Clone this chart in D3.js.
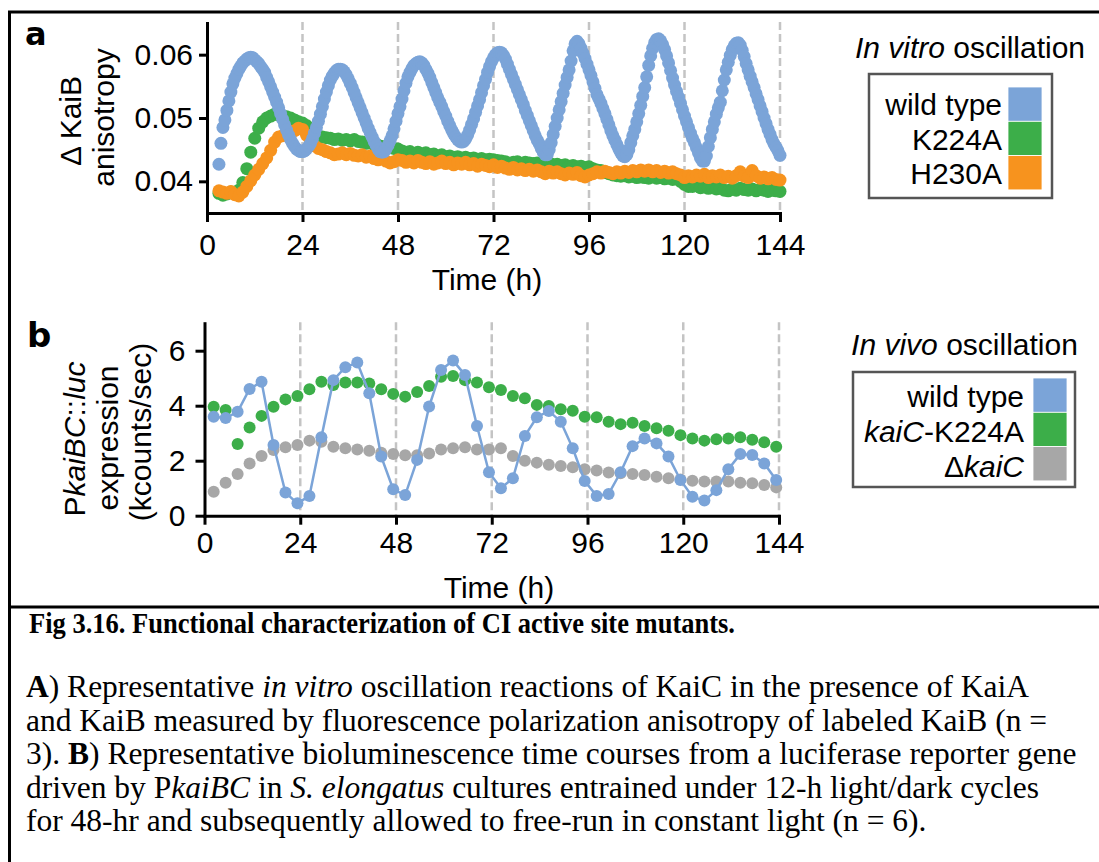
<!DOCTYPE html>
<html>
<head>
<meta charset="utf-8">
<script src="https://cdn.jsdelivr.net/npm/d3@7"></script>
<style>
  body { margin: 0; background: #fff; }
  svg { display: block; }
</style>
</head>
<body>
<script>
// ---- data ----
const timeTicks = [0, 24, 48, 72, 96, 120, 144];
const dashTimes = [24, 48, 72, 96, 120, 144];
const anisoTicks = [0.04, 0.05, 0.06];
const exprTicks = [0, 2, 4, 6];

const vitroNames = ["wild type", "K224A", "H230A"];
const vitroColors = ["#7ba4d8", "#3cae49", "#f7931e"];
const vivoColors = ["#7ba4d8", "#3cae49", "#a7a7a7"];

// in vitro, wild type: every 0.5 h from t = 3
const wtStart = 3;
const wtStep = 0.5;
const wtAniso = [
  0.0427, 0.0460, 0.0485, 0.0497, 0.0512, 0.0527, 0.0541, 0.0554, 0.0563, 0.0570, 0.0577, 0.0582,
  0.0587, 0.0590, 0.0593, 0.0595, 0.0596, 0.0595, 0.0592, 0.0589, 0.0586, 0.0581, 0.0577, 0.0572,
  0.0564, 0.0557, 0.0549, 0.0541, 0.0533, 0.0525, 0.0516, 0.0507, 0.0498, 0.0489, 0.0481, 0.0473,
  0.0466, 0.0460, 0.0455, 0.0451, 0.0449, 0.0447, 0.0447, 0.0448, 0.0451, 0.0455, 0.0460, 0.0467,
  0.0476, 0.0485, 0.0495, 0.0506, 0.0518, 0.0530, 0.0541, 0.0551, 0.0560, 0.0566, 0.0571, 0.0575,
  0.0577, 0.0577, 0.0576, 0.0573, 0.0568, 0.0562, 0.0555, 0.0548, 0.0540, 0.0532, 0.0524, 0.0516,
  0.0508, 0.0500, 0.0492, 0.0484, 0.0477, 0.0470, 0.0463, 0.0457, 0.0451, 0.0447, 0.0446, 0.0447,
  0.0451, 0.0457, 0.0464, 0.0472, 0.0483, 0.0495, 0.0507, 0.0518, 0.0530, 0.0543, 0.0555, 0.0565,
  0.0572, 0.0578, 0.0583, 0.0586, 0.0588, 0.0589, 0.0587, 0.0583, 0.0577, 0.0571, 0.0564, 0.0556,
  0.0548, 0.0540, 0.0532, 0.0525, 0.0518, 0.0510, 0.0503, 0.0495, 0.0488, 0.0481, 0.0475, 0.0470,
  0.0466, 0.0463, 0.0462, 0.0463, 0.0467, 0.0473, 0.0481, 0.0490, 0.0499, 0.0509, 0.0519, 0.0529,
  0.0540, 0.0551, 0.0561, 0.0572, 0.0581, 0.0589, 0.0595, 0.0600, 0.0603, 0.0604, 0.0603, 0.0599,
  0.0593, 0.0585, 0.0577, 0.0569, 0.0561, 0.0553, 0.0545, 0.0537, 0.0529, 0.0521, 0.0512, 0.0504,
  0.0496, 0.0488, 0.0480, 0.0472, 0.0465, 0.0459, 0.0452, 0.0446, 0.0442, 0.0442, 0.0450, 0.0461,
  0.0474, 0.0487, 0.0500, 0.0513, 0.0526, 0.0539, 0.0552, 0.0564, 0.0576, 0.0590, 0.0606, 0.0617,
  0.0621, 0.0617, 0.0610, 0.0602, 0.0594, 0.0585, 0.0576, 0.0567, 0.0557, 0.0547, 0.0537, 0.0530,
  0.0523, 0.0515, 0.0507, 0.0498, 0.0489, 0.0480, 0.0472, 0.0465, 0.0458, 0.0451, 0.0445, 0.0440,
  0.0439, 0.0442, 0.0450, 0.0461, 0.0472, 0.0482, 0.0494, 0.0507, 0.0520, 0.0534, 0.0548, 0.0565,
  0.0583, 0.0598, 0.0610, 0.0619, 0.0624, 0.0625, 0.0622, 0.0616, 0.0608, 0.0598, 0.0587, 0.0575,
  0.0563, 0.0552, 0.0542, 0.0533, 0.0523, 0.0513, 0.0503, 0.0494, 0.0485, 0.0476, 0.0468, 0.0461,
  0.0453, 0.0445, 0.0437, 0.0432, 0.0432, 0.0440, 0.0455, 0.0469, 0.0482, 0.0494, 0.0506, 0.0516,
  0.0525, 0.0543, 0.0560, 0.0576, 0.0588, 0.0599, 0.0608, 0.0614, 0.0618, 0.0619, 0.0615, 0.0607,
  0.0597, 0.0586, 0.0576, 0.0566, 0.0557, 0.0548, 0.0538, 0.0529, 0.0519, 0.0510, 0.0500, 0.0491,
  0.0482, 0.0474, 0.0466, 0.0459, 0.0454, 0.0448, 0.0441,
];

// in vitro, mutants: every 1 h from t = 3
const mutStart = 3;
const mutStep = 1;
const k224aAniso = [
  0.0381, 0.0378, 0.0380, 0.0383, 0.0381, 0.0386, 0.0398, 0.0420, 0.0446, 0.0468, 0.0484, 0.0494,
  0.0500, 0.0503, 0.0506, 0.0505, 0.0503, 0.0502, 0.0500, 0.0497, 0.0494, 0.0492, 0.0488, 0.0481,
  0.0476, 0.0472, 0.0470, 0.0469, 0.0468, 0.0466, 0.0467, 0.0465, 0.0466, 0.0464, 0.0466, 0.0463,
  0.0462, 0.0460, 0.0461, 0.0458, 0.0457, 0.0455, 0.0454, 0.0453, 0.0452, 0.0451, 0.0448, 0.0446,
  0.0447, 0.0444, 0.0446, 0.0443, 0.0445, 0.0442, 0.0443, 0.0440, 0.0442, 0.0439, 0.0440, 0.0438,
  0.0439, 0.0437, 0.0438, 0.0436, 0.0437, 0.0435, 0.0436, 0.0434, 0.0435, 0.0434, 0.0433, 0.0432,
  0.0431, 0.0426, 0.0430, 0.0431, 0.0428, 0.0430, 0.0429, 0.0428, 0.0429, 0.0427, 0.0428, 0.0429,
  0.0426, 0.0427, 0.0425, 0.0426, 0.0424, 0.0425, 0.0423, 0.0424, 0.0422, 0.0423, 0.0420, 0.0418,
  0.0417, 0.0414, 0.0412, 0.0410, 0.0409, 0.0408, 0.0409, 0.0407, 0.0408, 0.0406, 0.0407, 0.0406,
  0.0405, 0.0407, 0.0405, 0.0406, 0.0404, 0.0405, 0.0403, 0.0404, 0.0400, 0.0395, 0.0392, 0.0392,
  0.0393, 0.0390, 0.0391, 0.0389, 0.0390, 0.0388, 0.0389, 0.0386, 0.0385, 0.0388, 0.0386, 0.0389,
  0.0387, 0.0386, 0.0388, 0.0385, 0.0387, 0.0386, 0.0384, 0.0386, 0.0385, 0.0384,
];
const h230aAniso = [
  0.0385, 0.0383, 0.0381, 0.0384, 0.0379, 0.0377, 0.0383, 0.0392, 0.0401, 0.0410, 0.0419, 0.0428,
  0.0437, 0.0449, 0.0462, 0.0470, 0.0472, 0.0474, 0.0477, 0.0480, 0.0484, 0.0482, 0.0473, 0.0463,
  0.0456, 0.0452, 0.0450, 0.0447, 0.0445, 0.0442, 0.0443, 0.0445, 0.0442, 0.0444, 0.0441, 0.0440,
  0.0442, 0.0438, 0.0440, 0.0436, 0.0434, 0.0437, 0.0432, 0.0429, 0.0431, 0.0434, 0.0433, 0.0430,
  0.0432, 0.0429, 0.0433, 0.0430, 0.0428, 0.0431, 0.0427, 0.0429, 0.0432, 0.0428, 0.0430, 0.0426,
  0.0429, 0.0427, 0.0430, 0.0426, 0.0428, 0.0424, 0.0427, 0.0425, 0.0423, 0.0426, 0.0422, 0.0424,
  0.0421, 0.0419, 0.0422, 0.0418, 0.0420, 0.0417, 0.0419, 0.0416, 0.0418, 0.0415, 0.0412, 0.0416,
  0.0413, 0.0415, 0.0412, 0.0410, 0.0413, 0.0411, 0.0414, 0.0409, 0.0407, 0.0410, 0.0412, 0.0415,
  0.0413, 0.0416, 0.0414, 0.0412, 0.0415, 0.0413, 0.0416, 0.0414, 0.0417, 0.0415, 0.0418, 0.0416,
  0.0418, 0.0415, 0.0417, 0.0414, 0.0416, 0.0413, 0.0415, 0.0412, 0.0410, 0.0406, 0.0409, 0.0407,
  0.0410, 0.0408, 0.0411, 0.0406, 0.0409, 0.0407, 0.0410, 0.0406, 0.0408, 0.0405, 0.0409, 0.0415,
  0.0408, 0.0406, 0.0417, 0.0409, 0.0405, 0.0407, 0.0404, 0.0406, 0.0403, 0.0402,
];

// in vivo: every 3 h from t = 2.3 (kcounts/sec)
const vivoStart = 2.3;
const vivoStep = 3;
const wtExpr = [
  3.60, 3.55, 3.78, 4.61, 4.87, 2.57, 0.84, 0.45, 0.72, 2.85, 4.93, 5.40,
  5.57, 4.45, 2.15, 0.96, 0.75, 2.03, 3.97, 5.30, 5.64, 5.12, 3.26, 1.58,
  1.00, 1.36, 2.90, 3.58, 3.81, 3.42, 2.45, 1.26, 0.72, 0.79, 1.58, 2.53,
  2.81, 2.63, 2.15, 1.30, 0.69, 0.55, 0.93, 1.69, 2.24, 2.21, 1.90, 1.30,
];
const k224aExpr = [
  3.96, 3.84, 2.61, 3.21, 3.63, 3.96, 4.23, 4.35, 4.60, 4.87, 4.75, 4.84,
  4.84, 4.81, 4.60, 4.43, 4.33, 4.50, 4.72, 5.05, 5.08, 4.93, 4.84, 4.67,
  4.57, 4.35, 4.27, 4.03, 3.99, 3.87, 3.82, 3.60, 3.58, 3.42, 3.33, 3.38,
  3.26, 3.18, 3.09, 2.93, 2.81, 2.73, 2.78, 2.81, 2.85, 2.76, 2.67, 2.51,
];
const dKaiCExpr = [
  0.87, 1.20, 1.52, 1.90, 2.17, 2.39, 2.49, 2.57, 2.73, 2.69, 2.51, 2.45,
  2.41, 2.36, 2.29, 2.24, 2.20, 2.20, 2.26, 2.41, 2.45, 2.49, 2.41, 2.41,
  2.45, 2.17, 2.00, 1.93, 1.85, 1.81, 1.76, 1.69, 1.64, 1.57, 1.54, 1.52,
  1.48, 1.42, 1.36, 1.32, 1.27, 1.24, 1.24, 1.24, 1.20, 1.18, 1.12, 1.03,
];

const captionTitle = "Fig 3.16. Functional characterization of CI active site mutants.";
const captionLines = [
  [["A", "b"], [") Representative ", ""], ["in vitro", "i"], [" oscillation reactions of KaiC in the presence of KaiA", ""]],
  [["and KaiB measured by fluorescence polarization anisotropy of labeled KaiB (n =", ""]],
  [["3). ", ""], ["B", "b"], [") Representative bioluminescence time courses from a luciferase reporter gene", ""]],
  [["driven by P", ""], ["kaiBC", "i"], [" in ", ""], ["S. elongatus", "i"], [" cultures entrained under 12-h light/dark cycles", ""]],
  [["for 48-hr and subsequently allowed to free-run in constant light (n = 6).", ""]],
];

// ---- drawing ----
const W = 1099;
const H = 862;
const sans = '"Liberation Sans", Arial, Helvetica, sans-serif';
const serif = '"Liberation Serif", "Times New Roman", serif';

const toPoints = (vals, start, step) => vals.map((v, i) => ({ t: start + i * step, v }));

const svg = d3
  .select("body")
  .append("svg")
  .attr("width", W)
  .attr("height", H)
  .attr("font-family", sans);

svg.append("rect").attr("width", W).attr("height", H).attr("fill", "#fff");

// page frame and caption rule
svg
  .append("path")
  .attr("d", `M 9.5 ${H} V 12 H ${W}`)
  .attr("fill", "none")
  .attr("stroke", "#000")
  .attr("stroke-width", 3);
svg
  .append("path")
  .attr("d", `M 9.5 607 H ${W}`)
  .attr("fill", "none")
  .attr("stroke", "#000")
  .attr("stroke-width", 3);

const styleAxis = (g) => {
  g.attr("font-family", null).attr("font-size", null);
  g.selectAll("path.domain").attr("stroke-width", 3).attr("stroke-linecap", "square");
  g.selectAll(".tick line").attr("stroke-width", 3);
  g.selectAll(".tick text").attr("font-size", 30).attr("fill", "#000");
};

const addText = (parent, parts, attrs) => {
  const t = parent.append("text").style("white-space", "pre");
  Object.entries(attrs).forEach(([k, v]) => t.attr(k, v));
  parts.forEach(([s, f]) => {
    t.append("tspan")
      .attr("font-style", f === "i" ? "italic" : null)
      .attr("font-weight", f === "b" ? "bold" : null)
      .text(s);
  });
  return t;
};

// ===== panel a =====
const xA = d3.scaleLinear().domain([0, 144]).range([207, 780]);
const yA = d3.scaleLinear().domain([0.035, 0.065]).range([213, 23]);

const gA = svg.append("g");

gA.append("g")
  .selectAll("line")
  .data(dashTimes)
  .join("line")
  .attr("x1", (d) => xA(d))
  .attr("x2", (d) => xA(d))
  .attr("y1", yA(0.065) - 1)
  .attr("y2", yA(0.035))
  .attr("stroke", "#c4c4c4")
  .attr("stroke-width", 2.5)
  .attr("stroke-dasharray", "8 4");

const vitroSeries = [
  { pts: toPoints(k224aAniso, mutStart, mutStep), color: vitroColors[1] },
  { pts: toPoints(h230aAniso, mutStart, mutStep), color: vitroColors[2] },
  { pts: toPoints(wtAniso, wtStart, wtStep), color: vitroColors[0] },
];

vitroSeries.forEach((s) => {
  gA.append("g")
    .selectAll("circle")
    .data(s.pts)
    .join("circle")
    .attr("cx", (d) => xA(d.t))
    .attr("cy", (d) => yA(d.v))
    .attr("r", 6.5)
    .attr("fill", s.color);
});

gA.append("g")
  .attr("transform", `translate(0,${yA(0.035)})`)
  .call(d3.axisBottom(xA).tickValues(timeTicks).tickSize(9).tickPadding(12).tickSizeOuter(0))
  .call(styleAxis);

gA.append("g")
  .attr("transform", `translate(${xA(0)},0)`)
  .call(
    d3.axisLeft(yA).tickValues(anisoTicks).tickFormat(d3.format(".2f")).tickSize(8).tickPadding(6).tickSizeOuter(0)
  )
  .call(styleAxis);

addText(gA, [["Time (h)", ""]], { x: 487, y: 290, "text-anchor": "middle", "font-size": 30 });
addText(gA, [["Δ KaiB", ""]], { transform: "translate(81,121) rotate(-90)", "text-anchor": "middle", "font-size": 30 });
addText(gA, [["anisotropy", ""]], { transform: "translate(114,117.5) rotate(-90)", "text-anchor": "middle", "font-size": 30 });
addText(gA, [["a", ""]], { x: 25, y: 45, "font-size": 32, "font-weight": "bold", "font-family": '"DejaVu Sans", sans-serif' });

// legend a
addText(gA, [["In vitro", "i"], [" oscillation", ""]], { x: 970, y: 58, "text-anchor": "middle", "font-size": 30 });
gA.append("rect")
  .attr("x", 869).attr("y", 74).attr("width", 183).attr("height", 124)
  .attr("fill", "none").attr("stroke", "#555").attr("stroke-width", 2.5);
gA.append("g")
  .selectAll("rect")
  .data(vitroColors)
  .join("rect")
  .attr("x", 1008)
  .attr("y", (d, i) => 87 + i * 34.3)
  .attr("width", 34)
  .attr("height", 34.3)
  .attr("fill", (d) => d)
  .attr("stroke", "#fff")
  .attr("stroke-width", 0.8);
vitroNames.forEach((name, i) => {
  addText(gA, [[name, ""]], { x: 1002, y: 115 + i * 34.5, "text-anchor": "end", "font-size": 30 });
});

// ===== panel b =====
const xB = d3.scaleLinear().domain([0, 144]).range([204.5, 779]);
const yB = d3.scaleLinear().domain([0, 7]).range([515.7, 323.2]);

const gB = svg.append("g");

gB.append("g")
  .selectAll("line")
  .data(dashTimes)
  .join("line")
  .attr("x1", (d) => xB(d))
  .attr("x2", (d) => xB(d))
  .attr("y1", yB(7) - 1)
  .attr("y2", yB(0))
  .attr("stroke", "#c4c4c4")
  .attr("stroke-width", 2.5)
  .attr("stroke-dasharray", "8 4");

const vivoSeries = [
  { pts: toPoints(dKaiCExpr, vivoStart, vivoStep), color: vivoColors[2], line: false },
  { pts: toPoints(k224aExpr, vivoStart, vivoStep), color: vivoColors[1], line: false },
  { pts: toPoints(wtExpr, vivoStart, vivoStep), color: vivoColors[0], line: true },
];

const lineB = d3.line().x((d) => xB(d.t)).y((d) => yB(d.v));

vivoSeries.forEach((s) => {
  if (s.line) {
    gB.append("path")
      .datum(s.pts)
      .attr("d", lineB)
      .attr("fill", "none")
      .attr("stroke", s.color)
      .attr("stroke-width", 2.5);
  }
  gB.append("g")
    .selectAll("circle")
    .data(s.pts)
    .join("circle")
    .attr("cx", (d) => xB(d.t))
    .attr("cy", (d) => yB(d.v))
    .attr("r", 6)
    .attr("fill", s.color);
});

gB.append("g")
  .attr("transform", `translate(0,${yB(0)})`)
  .call(d3.axisBottom(xB).tickValues(timeTicks).tickSize(9).tickPadding(7).tickSizeOuter(0))
  .call(styleAxis);

gB.append("g")
  .attr("transform", `translate(${xB(0)},0)`)
  .call(
    d3.axisLeft(yB).tickValues(exprTicks).tickFormat(d3.format("d")).tickSize(9).tickPadding(10).tickSizeOuter(0)
  )
  .call(styleAxis);

addText(gB, [["Time (h)", ""]], { x: 499, y: 598, "text-anchor": "middle", "font-size": 30 });
addText(gB, [["P", ""], ["kaiBC", "i"], ["::", ""], ["luc", "i"]], {
  transform: "translate(85,439) rotate(-90)", "text-anchor": "middle", "font-size": 30,
});
addText(gB, [["expression", ""]], { transform: "translate(118,438) rotate(-90)", "text-anchor": "middle", "font-size": 30 });
addText(gB, [["(kcounts/sec)", ""]], { transform: "translate(151,432) rotate(-90)", "text-anchor": "middle", "font-size": 30 });
addText(gB, [["b", ""]], { x: 27, y: 347, "font-size": 34, "font-weight": "bold", "font-family": '"DejaVu Sans", sans-serif' });

// legend b
const vivoLabels = [
  [["wild type", ""]],
  [["kaiC", "i"], ["-K224A", ""]],
  [["Δ", ""], ["kaiC", "i"]],
];
addText(gB, [["In vivo", "i"], [" oscillation", ""]], { x: 964.5, y: 355, "text-anchor": "middle", "font-size": 30 });
gB.append("rect")
  .attr("x", 853).attr("y", 372).attr("width", 222).attr("height", 115)
  .attr("fill", "none").attr("stroke", "#555").attr("stroke-width", 2.5);
gB.append("g")
  .selectAll("rect")
  .data(vivoColors)
  .join("rect")
  .attr("x", 1033)
  .attr("y", (d, i) => 378 + i * 34.3)
  .attr("width", 34)
  .attr("height", 34.3)
  .attr("fill", (d) => d)
  .attr("stroke", "#fff")
  .attr("stroke-width", 0.8);
vivoLabels.forEach((parts, i) => {
  addText(gB, parts, { x: 1024, y: 407 + i * 35, "text-anchor": "end", "font-size": 30 });
});

// ===== caption =====
const gC = svg.append("g").attr("font-family", serif).attr("fill", "#000");
addText(gC, [[captionTitle, "b"]], {
  x: 29, y: 633, "font-size": 29, textLength: 706, lengthAdjust: "spacingAndGlyphs",
});
captionLines.forEach((parts, i) => {
  addText(gC, parts, { x: 26, y: 697 + i * 33.5, "font-size": 31.5 });
});
</script>
</body>
</html>
